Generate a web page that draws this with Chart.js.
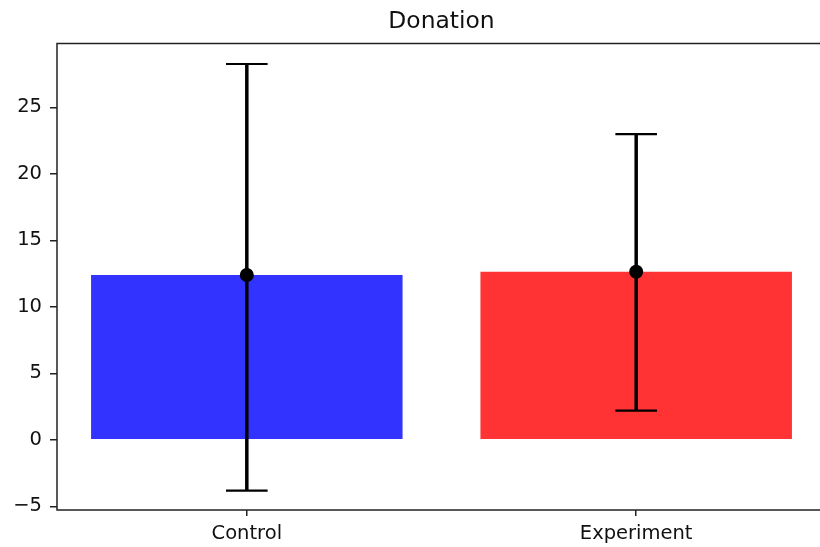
<!DOCTYPE html>
<html>
<head>
<meta charset="utf-8">
<script src="https://cdn.jsdelivr.net/npm/chart.js@4/dist/chart.umd.min.js"></script>
<style>
  html, body { margin: 0; padding: 0; background: #fff; overflow: hidden; }
  #wrap { width: 840px; height: 547px; }
</style>
</head>
<body>
<div id="wrap"><canvas id="donationChart" width="840" height="547"></canvas></div>
<script>
// values
var categories = ['Control', 'Experiment'];
var means = [12.39, 12.64];
var errLower = [-3.83, 2.19];
var errUpper = [28.26, 22.99];
var barColors = ['rgb(51,51,255)', 'rgb(255,51,51)'];
var yTickValues = [-5, 0, 5, 10, 15, 20, 25];
var chartTitle = 'Donation';

var fontFamily = '"DejaVu Sans", sans-serif';

// draws the whiskers and caps from the y scale
var errorBarPlugin = {
	id: 'errorBars',
	afterDatasetsDraw: function(chart) {
		var ctx = chart.ctx;
		var xs = chart.scales.x;
		var ys = chart.scales.y;
		ctx.save();
		ctx.strokeStyle = '#000';
		for (var i = 0; i < categories.length; i++) {
			var px = xs.getPixelForValue(i);
			var top = ys.getPixelForValue(errUpper[i]);
			var bot = ys.getPixelForValue(errLower[i]);
			ctx.lineWidth = 3.5;
			ctx.beginPath();
			ctx.moveTo(px, top);
			ctx.lineTo(px, bot);
			ctx.stroke();
			ctx.lineWidth = 2.2;
			ctx.beginPath();
			ctx.moveTo(px - 20.8, top);
			ctx.lineTo(px + 20.8, top);
			ctx.moveTo(px - 20.8, bot);
			ctx.lineTo(px + 20.8, bot);
			ctx.stroke();
		}
		ctx.restore();
	}
};

// matplotlib style box round the axes, title centred over the axes
var framePlugin = {
	id: 'frame',
	afterDraw: function(chart) {
		var a = chart.chartArea;
		var ctx = chart.ctx;
		ctx.save();
		ctx.strokeStyle = '#222';
		ctx.lineWidth = 1.5;
		ctx.strokeRect(a.left, a.top, a.right - a.left, a.bottom - a.top);
		ctx.fillStyle = '#111';
		ctx.font = '23.4px ' + fontFamily;
		ctx.textAlign = 'center';
		ctx.textBaseline = 'middle';
		ctx.fillText(chartTitle, (a.left + a.right) / 2, 22);
		ctx.restore();
	}
};

var barData = categories.map(function(c, i) { return { x: i, y: means[i] }; });
var pointData = categories.map(function(c, i) { return { x: i, y: means[i] }; });

var config = {
	type: 'bar',
	data: {
		datasets: [{
			type: 'scatter',
			data: pointData,
			pointRadius: 7,
			pointHoverRadius: 7,
			backgroundColor: '#000',
			borderWidth: 0,
			order: 0
		}, {
			type: 'bar',
			data: barData,
			backgroundColor: barColors,
			borderWidth: 0,
			barPercentage: 0.8,
			categoryPercentage: 1.0,
			order: 1
		}]
	},
	options: {
		responsive: false,
		animation: false,
		layout: { padding: { left: 0, right: 14, top: 43.5, bottom: 0 } },
		plugins: {
			legend: { display: false },
			tooltip: { enabled: false },
			title: { display: false }
		},
		scales: {
			x: {
				type: 'linear',
				offset: false,
				min: -0.4875,
				max: 1.4875,
				afterBuildTicks: function(scale) {
					scale.ticks = categories.map(function(c, i) { return { value: i }; });
				},
				afterFit: function(scale) { scale.height = 37; },
				grid: { display: true, offset: false, drawOnChartArea: false, drawTicks: true, tickLength: 6, color: '#222', lineWidth: 1.5 },
				border: { display: false },
				ticks: {
					autoSkip: false,
					maxRotation: 0,
					padding: 6,
					color: '#111',
					font: { family: fontFamily, size: 19.5 },
					callback: function(v) { return categories[v]; }
				}
			},
			y: {
				min: -5.28,
				max: 29.8,
				afterBuildTicks: function(scale) {
					scale.ticks = yTickValues.map(function(v) { return { value: v }; });
				},
				afterFit: function(scale) { scale.width = 57; },
				grid: { display: true, drawOnChartArea: false, drawTicks: true, tickLength: 7, color: '#222', lineWidth: 1.5 },
				border: { display: false },
				ticks: {
					padding: 8,
					color: '#111',
					font: { family: fontFamily, size: 19.5 },
					callback: function(v) { return v < 0 ? '\u2212' + Math.abs(v) : String(v); }
				}
			}
		}
	},
	plugins: [errorBarPlugin, framePlugin]
};

var myChart = new Chart('donationChart', config);
</script>
</body>
</html>
